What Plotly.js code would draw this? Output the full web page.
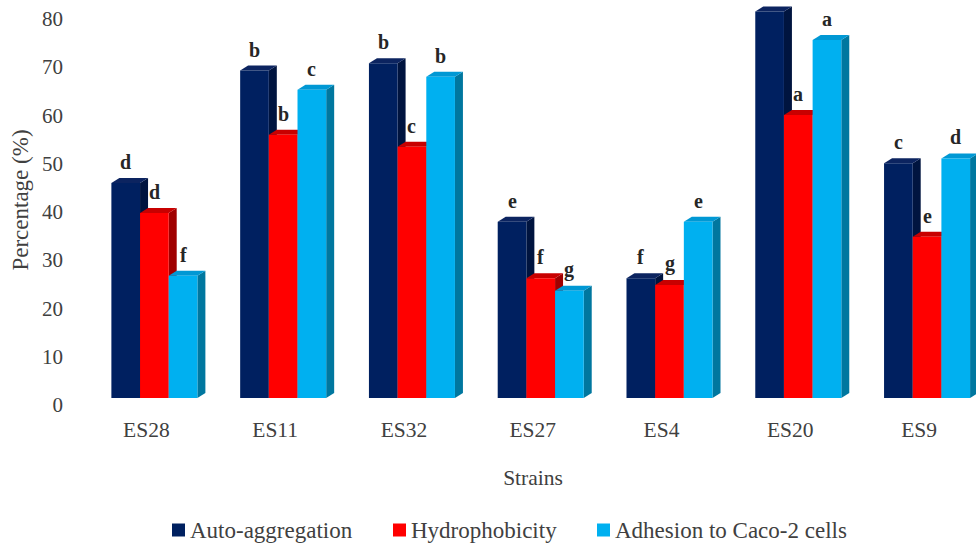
<!DOCTYPE html>
<html>
<head>
<meta charset="utf-8">
<script src="https://cdn.plot.ly/plotly-3.0.1.min.js"></script>
<style>html,body{margin:0;padding:0;background:#fff;}#chart{width:976px;height:545px;}</style>
</head>
<body>
<div id="chart"></div>
<script>
const strains = ["ES28", "ES11", "ES32", "ES27", "ES4", "ES20", "ES9"];
const autoAggregation = [44.5, 67.8, 69.3, 36.5, 24.8, 80.0, 48.6];
const hydrophobicity = [38.3, 54.5, 52.0, 24.8, 23.4, 58.6, 33.4];
const adhesionCaco2 = [25.3, 63.8, 66.5, 22.2, 36.5, 74.1, 49.6];
const lettersAuto = ["d", "b", "b", "e", "f", "", "c"];
const lettersHydro = ["d", "b", "c", "f", "g", "a", "e"];
const lettersAdhesion = ["f", "c", "b", "g", "e", "a", "d"];
const seriesNames = ["Auto-aggregation", "Hydrophobicity", "Adhesion to Caco-2 cells"];
const yTicks = [0, 10, 20, 30, 40, 50, 60, 70, 80];

const FONT = "Liberation Serif";
const seriesValues = [autoAggregation, hydrophobicity, adhesionCaco2];
const seriesLetters = [lettersAuto, lettersHydro, lettersAdhesion];
const frontColors = ["#002060", "#ff0000", "#00b0f0"];
const topColors = ["#0c2460", "#c80000", "#0098d4"];
const sideColors = ["#00143f", "#a00000", "#00779f"];

const bargap = 0.332;
const barW = (1 - bargap) / 3;
const dx = 0.062;   // depth offset in category units
const dy = 1.04;    // depth offset in value units

const traces = seriesValues.map((vals, k) => ({
  type: "bar",
  name: seriesNames[k],
  x: strains,
  y: vals,
  marker: { color: frontColors[k], line: { width: 0 } },
  hoverinfo: "x+y+name",
  showlegend: false
}));

const shapes = [];
const annotations = [];
strains.forEach((s, i) => {
  seriesValues.forEach((vals, k) => {
    const v = vals[i];
    const xl = i + (k - 1) * barW - barW / 2;
    const xr = xl + barW;
    shapes.push({
      type: "path", layer: "below", xref: "x", yref: "y",
      path: `M${xr},0 L${xr + dx},${dy} L${xr + dx},${v + dy} L${xr},${v} Z`,
      fillcolor: sideColors[k], line: { width: 0 }
    });
    shapes.push({
      type: "path", layer: "below", xref: "x", yref: "y",
      path: `M${xl},${v} L${xl + dx},${v + dy} L${xr + dx},${v + dy} L${xr},${v} Z`,
      fillcolor: topColors[k], line: { width: 0 }
    });
    const letter = seriesLetters[k][i];
    if (letter) {
      annotations.push({
        x: xl + barW / 2, y: v, xref: "x", yref: "y",
        text: "<b>" + letter + "</b>", showarrow: false,
        yanchor: "bottom", yshift: 8,
        font: { family: FONT, size: 20, color: "#262626" }
      });
    }
  });
});

// legend (drawn below the plot, in paper coordinates)
const plotL = 90, plotW = 886, plotB = 398, plotH = 396;
const px2x = p => (p - plotL) / plotW;
const px2y = p => (plotB - p) / plotH;
const legendSquareX = [172, 393, 597];
seriesNames.forEach((name, k) => {
  const sx = legendSquareX[k];
  shapes.push({
    type: "rect", xref: "paper", yref: "paper",
    x0: px2x(sx), x1: px2x(sx + 13), y0: px2y(536.5), y1: px2y(523.5),
    fillcolor: frontColors[k], line: { width: 0 }
  });
  annotations.push({
    xref: "paper", yref: "paper", x: px2x(sx + 16), y: px2y(530),
    xanchor: "left", yanchor: "middle", showarrow: false,
    text: name, font: { family: FONT, size: 23, color: "#404040" }
  });
});

const layout = {
  width: 976, height: 545,
  margin: { l: plotL, r: 0, t: 2, b: 147 },
  paper_bgcolor: "#ffffff", plot_bgcolor: "rgba(0,0,0,0)",
  barmode: "group", bargap: bargap, bargroupgap: 0,
  showlegend: false,
  font: { family: FONT, size: 21, color: "#404040" },
  xaxis: {
    type: "category", range: [-0.5, 6.38],
    showgrid: false, zeroline: false, showline: false, ticks: "",
    tickfont: { family: FONT, size: 21.5, color: "#404040" },
    ticklabelshift: -8, ticklabelstandoff: 16,
    title: { text: "Strains", font: { family: FONT, size: 21.5, color: "#404040" }, standoff: 29 }
  },
  yaxis: {
    range: [0, 81.99], tickvals: yTicks,
    showgrid: false, zeroline: false, showline: false, ticks: "",
    tickfont: { family: FONT, size: 21, color: "#404040" },
    ticklabelshift: 7, ticklabelstandoff: 26,
    title: { text: "Percentage (%)", font: { family: FONT, size: 23, color: "#404040" }, standoff: 6 }
  },
  shapes: shapes,
  annotations: annotations
};

Plotly.newPlot("chart", traces, layout, { displayModeBar: false, staticPlot: true });
</script>
</body>
</html>
